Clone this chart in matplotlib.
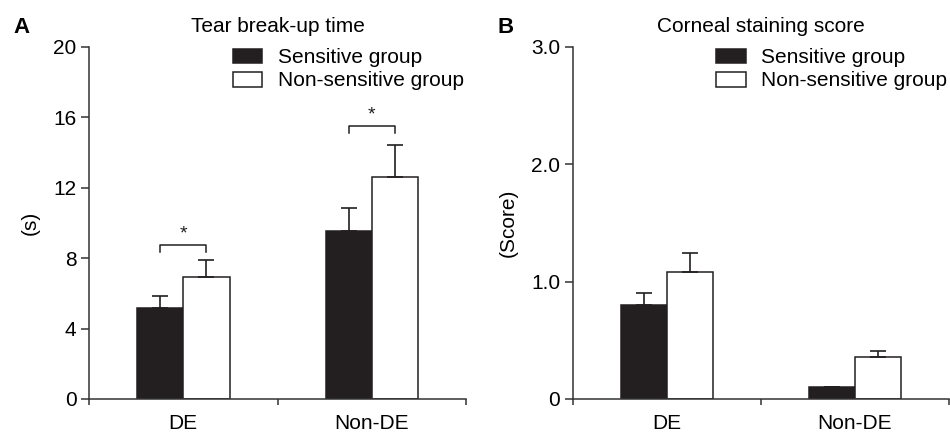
import numpy as np
import matplotlib
matplotlib.use('Agg')
import matplotlib.pyplot as plt

plt.rcParams['font.family'] = ['Liberation Sans', 'DejaVu Sans']

# Datos
categorias = ['DE', 'Non-DE']
series = ['Sensitive group', 'Non-sensitive group']

tbut_sens = [5.17, 9.55]
tbut_sens_err = [0.68, 1.30]
tbut_nonsens = [6.91, 12.60]
tbut_nonsens_err = [1.00, 1.83]
tbut_sig_y = [8.75, 15.5]

score_sens = [0.80, 0.105]
score_sens_err = [0.10, 0.0]
score_nonsens = [1.085, 0.36]
score_nonsens_err = [0.16, 0.05]

color_osc = '#231f20'
fs = 15


def panel(ax, letra, titulo, ylabel, sens, sens_err, nonsens, nonsens_err,
          yticks, yticklabels, ymax, sig_y=None):
    x = np.arange(len(categorias)) + 0.5
    w = 0.245
    ax.bar(x - w / 2, sens, w, color=color_osc, edgecolor=color_osc, lw=1.1,
           yerr=[np.zeros(len(sens)), sens_err], capsize=6,
           error_kw=dict(ecolor=color_osc, elinewidth=1.2, capthick=1.2),
           label=series[0], zorder=2)
    ax.bar(x + w / 2, nonsens, w, color='white', edgecolor=color_osc, lw=1.1,
           yerr=[np.zeros(len(nonsens)), nonsens_err], capsize=6,
           error_kw=dict(ecolor=color_osc, elinewidth=1.2, capthick=1.2),
           label=series[1], zorder=2)

    if sig_y is not None:
        leg = ymax * 0.02
        for xi, yi in zip(x, sig_y):
            ax.plot([xi - w / 2, xi - w / 2, xi + w / 2, xi + w / 2],
                    [yi - leg, yi, yi, yi - leg], color=color_osc, lw=1.1)
            ax.text(xi, yi + ymax * 0.008, '*', ha='center', va='bottom',
                    fontsize=14, color=color_osc)

    ax.set_xlim(0, len(categorias))
    ax.set_ylim(0, ymax)
    ax.set_yticks(yticks)
    ax.set_yticklabels(yticklabels)
    ax.set_xticks(x)
    ax.set_xticklabels(categorias)
    ax.set_xticks(np.arange(len(categorias) + 1), minor=True)
    ax.tick_params(axis='x', which='major', length=0, pad=11, labelsize=fs)
    ax.tick_params(axis='x', which='minor', length=4.5, width=1.1,
                   direction='out', color='#333333')
    ax.tick_params(axis='y', length=6, width=1.1, labelsize=fs, pad=3,
                   color='#333333')
    for s in ['top', 'right']:
        ax.spines[s].set_visible(False)
    for s in ['left', 'bottom']:
        ax.spines[s].set_linewidth(1.1)
        ax.spines[s].set_color('#333333')
    ax.set_title(titulo, fontsize=fs, pad=11)
    ax.set_ylabel(ylabel, fontsize=fs, labelpad=10)
    ax.text(-0.2016, 1.04, letra, transform=ax.transAxes, fontsize=16,
            fontweight='bold', va='baseline', ha='left')
    ax.legend(loc='upper left', bbox_to_anchor=(0.382, 0.996), frameon=False,
              fontsize=fs, handlelength=1.4, handleheight=0.72,
              handletextpad=0.75, labelspacing=0.2, borderpad=0,
              borderaxespad=0)


fig = plt.figure(figsize=(9.5, 4.32), dpi=100)
axA = fig.add_axes([0.0937, 0.0764, 0.397, 0.815])
axB = fig.add_axes([0.603, 0.0764, 0.3955, 0.815])

panel(axA, 'A', 'Tear break-up time', '(s)', tbut_sens, tbut_sens_err,
      tbut_nonsens, tbut_nonsens_err, [0, 4, 8, 12, 16, 20],
      ['0', '4', '8', '12', '16', '20'], 20, sig_y=tbut_sig_y)
panel(axB, 'B', 'Corneal staining score', '(Score)', score_sens,
      score_sens_err, score_nonsens, score_nonsens_err, [0, 1, 2, 3],
      ['0', '1.0', '2.0', '3.0'], 3.0)

fig.savefig('out.png', dpi=100)
